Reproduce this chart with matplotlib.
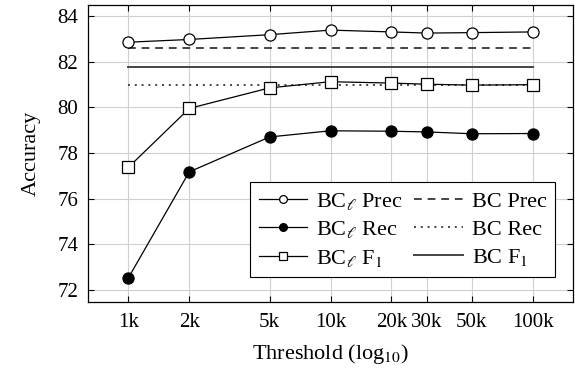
import matplotlib
matplotlib.use("Agg")
import matplotlib.pyplot as plt
from matplotlib.ticker import FixedLocator, NullLocator

plt.rcParams['font.family'] = ['Liberation Serif', 'DejaVu Serif']
plt.rcParams['mathtext.fontset'] = 'stix'

thresholds = [1000, 2000, 5000, 10000, 20000, 30000, 50000, 100000]
tick_labels = ["1k", "2k", "5k", "10k", "20k", "30k", "50k", "100k"]
bcl_prec = [82.85, 82.97, 83.18, 83.38, 83.30, 83.25, 83.27, 83.30]
bcl_rec = [72.53, 77.17, 78.70, 78.97, 78.95, 78.92, 78.84, 78.85]
bcl_f1 = [77.37, 79.95, 80.85, 81.12, 81.06, 81.01, 80.97, 80.99]
bc_prec = 82.58
bc_rec = 80.96
bc_f1 = 81.78

fig = plt.figure(figsize=(5.75, 3.76), dpi=100)
ax = fig.add_axes([88/575, 1 - 302/376, (573-88)/575, (302-5)/376])

ax.plot(thresholds, bcl_prec, color='black', lw=0.9, marker='o', mfc='white', mec='black', ms=8, mew=0.9, label=r'BC$_\ell$ Prec', zorder=3)
ax.plot(thresholds, bcl_rec, color='black', lw=0.9, marker='o', mfc='black', mec='black', ms=8, mew=0.9, label=r'BC$_\ell$ Rec', zorder=3)
ax.plot(thresholds, bcl_f1, color='black', lw=0.9, marker='s', mfc='white', mec='black', ms=8, mew=0.9, label=r'BC$_\ell$ F$_1$', zorder=3)
xs = [thresholds[0], thresholds[-1]]
ax.plot(xs, [bc_prec]*2, color='#444444', lw=1.4, ls=(0, (4, 3)), label='BC Prec', zorder=2)
ax.plot(xs, [bc_rec]*2, color='#444444', lw=1.4, ls=(0, (1, 2.5)), label='BC Rec', zorder=2)
ax.plot(xs, [bc_f1]*2, color='#444444', lw=1.4, ls='-', label=r'BC F$_1$', zorder=2)

ax.set_xscale('log')
ax.set_xlim(10**2.8, 10**5.2)
ax.set_ylim(71.47, 84.48)
ax.xaxis.set_major_locator(FixedLocator(thresholds))
ax.xaxis.set_minor_locator(NullLocator())
ax.set_xticklabels(tick_labels)
ax.set_yticks([72, 74, 76, 78, 80, 82, 84])
ax.tick_params(axis='both', which='major', direction='in', top=True, right=True, length=4, width=0.8, labelsize=15)
ax.tick_params(axis='x', pad=8)
ax.tick_params(axis='y', pad=7)
ax.grid(True, color='#d0d0d0', lw=0.8)
ax.set_axisbelow(True)
for s in ax.spines.values():
    s.set_linewidth(0.9)

ax.set_xlabel(r'Threshold (log$_{10}$)', fontsize=16, labelpad=7)
ax.set_ylabel('Accuracy', fontsize=16, labelpad=12)

leg = ax.legend(ncol=2, loc='lower right', bbox_to_anchor=(0.963, 0.084), borderaxespad=0,
                fontsize=16, frameon=True, fancybox=False, edgecolor='black', framealpha=1,
                handlelength=2.2, handletextpad=0.4, columnspacing=0.5, labelspacing=0.33,
                borderpad=0.38, markerscale=0.7)
leg.get_frame().set_linewidth(0.8)

fig.savefig('out.png', dpi=100)
